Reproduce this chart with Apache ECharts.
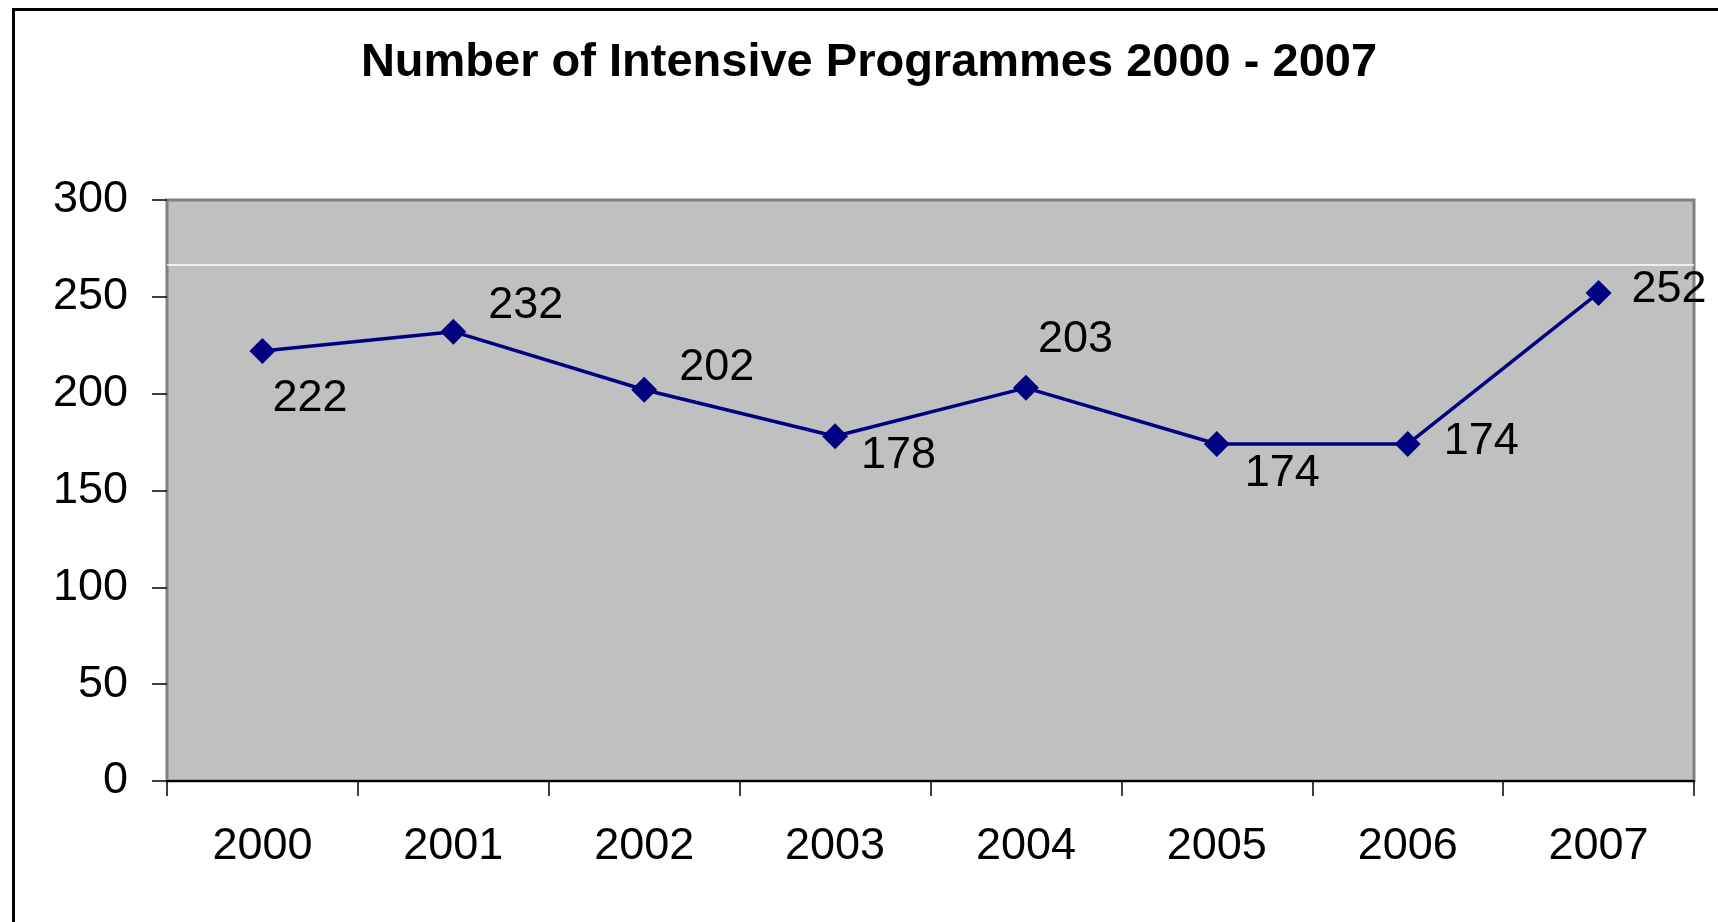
<!DOCTYPE html>
<html>
<head>
<meta charset="utf-8">
<script src="https://cdn.jsdelivr.net/npm/echarts@6/dist/echarts.min.js"></script>
<style>
html,body{margin:0;padding:0;background:#fff;}
#chart{width:1718px;height:922px;}
</style>
</head>
<body>
<div id="chart"></div>
<script>
const titleText = 'Number of Intensive Programmes 2000 - 2007';
const years = ['2000', '2001', '2002', '2003', '2004', '2005', '2006', '2007'];
const programmes = [222, 232, 202, 178, 203, 174, 174, 252];
const yTicks = { min: 0, max: 300, interval: 50 };
const whiteLineValue = 266.4;
// label placement per point (styling, not data)
const labelOffsets = [[-8, 48], [17, -26], [17, -22], [8, 19], [-6, -48], [10, 30], [18, -2], [15, -3]];

const FONT = "'Liberation Sans', Arial, sans-serif";
const chart = echarts.init(document.getElementById('chart'));

const seriesData = programmes.map((v, i) => ({
  value: v,
  label: { offset: labelOffsets[i] }
}));

chart.setOption({
  backgroundColor: '#ffffff',
  animation: false,
  graphic: [
    {
      type: 'rect',
      shape: { x: 13.5, y: 9.5, width: 1800, height: 1000 },
      style: { fill: 'none', stroke: '#000', lineWidth: 3 },
      z: 100
    },
    {
      type: 'text',
      x: 869, y: 63,
      style: {
        text: titleText,
        font: 'bold 47px ' + FONT,
        fill: '#000',
        align: 'center',
        verticalAlign: 'middle'
      }
    }
  ],
  grid: {
    left: 167, top: 200, right: 24, bottom: 141,
    show: true,
    backgroundColor: '#c0c0c0',
    borderColor: '#808080',
    borderWidth: 3,
    containLabel: false
  },
  xAxis: {
    type: 'category',
    data: years,
    boundaryGap: true,
    axisLine: { show: true, lineStyle: { color: '#000', width: 2 } },
    axisTick: { show: true, inside: false, length: 15, alignWithLabel: false, lineStyle: { color: '#000', width: 1.5 } },
    axisLabel: { color: '#000', fontFamily: FONT, fontSize: 45, margin: 43 },
    splitLine: { show: false }
  },
  yAxis: {
    type: 'value',
    min: yTicks.min, max: yTicks.max, interval: yTicks.interval,
    axisLine: { show: true, lineStyle: { color: '#808080', width: 2 } },
    axisTick: { show: true, inside: false, length: 15, lineStyle: { color: '#000', width: 1.5 } },
    axisLabel: { color: '#000', fontFamily: FONT, fontSize: 45, margin: 39 },
    splitLine: { show: false }
  },
  series: [{
    type: 'line',
    data: seriesData,
    symbol: 'diamond',
    symbolSize: 26,
    lineStyle: { color: '#000080', width: 3.5 },
    itemStyle: { color: '#000080' },
    label: {
      show: true,
      position: 'right',
      distance: 5,
      color: '#000',
      fontFamily: FONT,
      fontSize: 45
    },
    markLine: {
      silent: true,
      symbol: 'none',
      label: { show: false },
      lineStyle: { color: '#ffffff', width: 1.5, type: 'solid' },
      data: [{ yAxis: whiteLineValue }],
      z: 1
    }
  }]
});
</script>
</body>
</html>
